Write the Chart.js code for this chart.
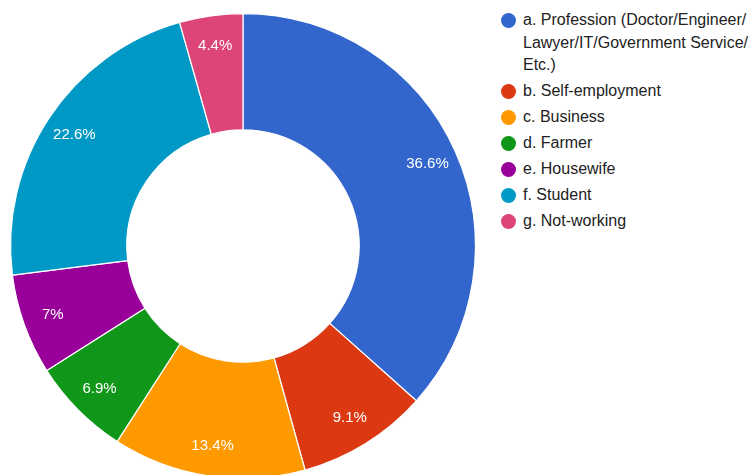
<!DOCTYPE html>
<html>
<head>
<meta charset="utf-8">
<script src="https://cdn.jsdelivr.net/npm/chart.js@4/dist/chart.umd.min.js"></script>
<style>
  html, body { margin: 0; padding: 0; background: #fff; }
  #wrap { position: relative; width: 753px; height: 475px; overflow: hidden; background: #fff; }
  #pie { position: absolute; left: 0; top: 0; }
  #legend { position: absolute; left: 500px; top: 9px; margin: 0; padding: 0; list-style: none;
            font-family: "Liberation Sans", Arial, sans-serif; font-size: 16px; color: #222; }
  #legend li { position: relative; padding-left: 23px; line-height: 22.5px; margin-bottom: 3.5px; white-space: pre-line; }
  #legend li span { position: absolute; left: 1px; top: 4px; width: 15px; height: 15px; border-radius: 50%; }
</style>
</head>
<body>
<div id="wrap">
  <canvas id="pie" width="486" height="492"></canvas>
  <ul id="legend"></ul>
</div>
<script>
// occupation categories and their share in percent
const categories = [
  "a. Profession (Doctor/Engineer/\nLawyer/IT/Government Service/\nEtc.)",
  "b. Self-employment",
  "c. Business",
  "d. Farmer",
  "e. Housewife",
  "f. Student",
  "g. Not-working"
];
const shares = [36.6, 9.1, 13.4, 6.9, 7, 22.6, 4.4];
const colors = ["#3366cc", "#dc3912", "#ff9900", "#109618", "#990099", "#0099c6", "#dd4477"];

// percent text inside each slice
const sliceLabels = {
  id: "sliceLabels",
  afterDatasetsDraw(chart) {
    const ctx = chart.ctx;
    const arcs = chart.getDatasetMeta(0).data;
    ctx.save();
    ctx.fillStyle = "#ffffff";
    ctx.font = '15px "Liberation Sans", Arial, sans-serif';
    ctx.textAlign = "center";
    ctx.textBaseline = "middle";
    arcs.forEach(function(arc, i) {
      const p = arc.getProps(["x", "y", "startAngle", "endAngle", "innerRadius", "outerRadius"], true);
      const mid = (p.startAngle + p.endAngle) / 2;
      const r = p.innerRadius + 0.74 * (p.outerRadius - p.innerRadius);
      ctx.fillText(shares[i] + "%", p.x + Math.cos(mid) * r, p.y + Math.sin(mid) * r);
    });
    ctx.restore();
  }
};

new Chart(document.getElementById("pie"), {
  type: "doughnut",
  data: {
    labels: categories,
    datasets: [{
      data: shares,
      backgroundColor: colors,
      borderColor: "#ffffff",
      borderWidth: 1.2
    }]
  },
  options: {
    responsive: false,
    animation: false,
    events: [],
    cutout: "50%",
    layout: { padding: 10 },
    plugins: {
      legend: { display: false },
      tooltip: { enabled: false }
    }
  },
  plugins: [sliceLabels]
});

// legend list on the right
const legend = document.getElementById("legend");
categories.forEach(function(name, i) {
  const li = document.createElement("li");
  const dot = document.createElement("span");
  dot.style.background = colors[i];
  li.appendChild(dot);
  li.appendChild(document.createTextNode(name));
  legend.appendChild(li);
});
</script>
</body>
</html>
